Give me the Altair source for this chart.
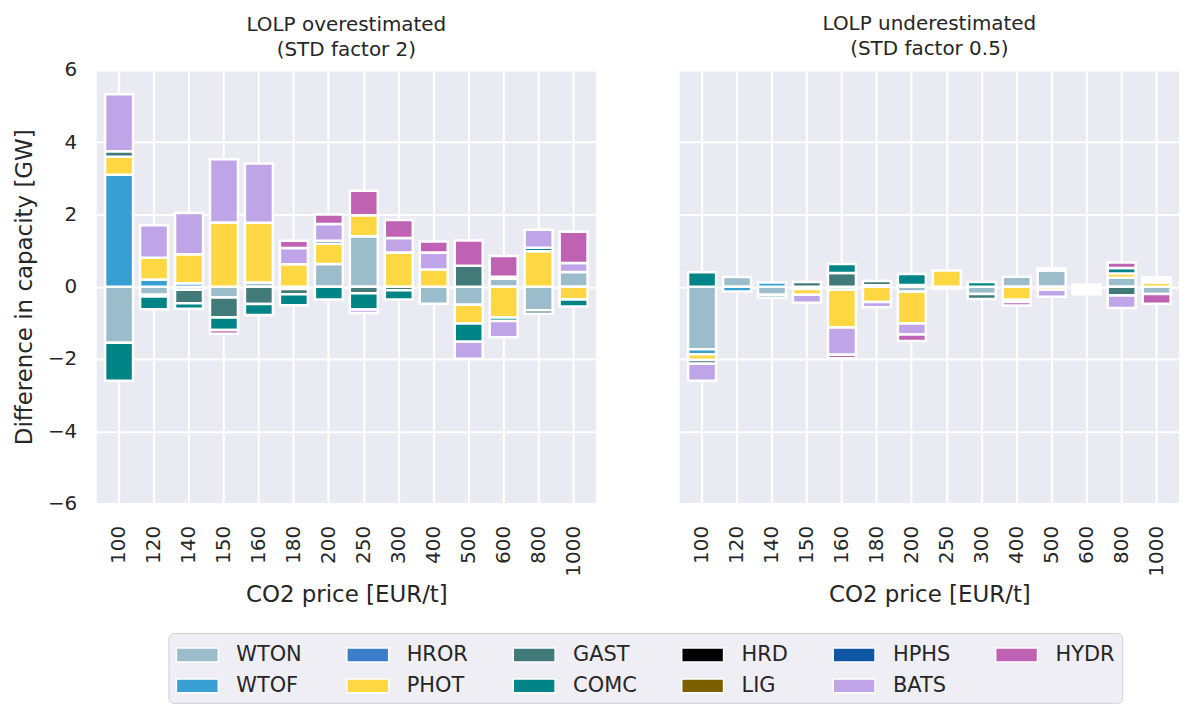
import altair as alt
import pandas as pd

prices = ["100", "120", "140", "150", "160", "180", "200", "250", "300", "400", "500", "600", "800", "1000"]
techs = ["WTON", "WTOF", "HROR", "PHOT", "GAST", "COMC", "HRD", "LIG", "HPHS", "BATS", "HYDR"]
tech_colors = ["#9bbccb", "#379fd1", "#3a7dc9", "#ffd743", "#427a7a", "#008486",
               "#000000", "#7c6000", "#0f56a3", "#c0a4e8", "#bf62b3"]

panel_titles = [["LOLP overestimated", "(STD factor 2)"], ["LOLP underestimated", "(STD factor 0.5)"]]

# LOLP overestimated (STD factor 2)
over_WTON = [-1.55, -0.22, -0.08, -0.30, 0.12, -0.06, 0.63, 1.40, 0, -0.47, -0.50, 0.22, -0.65, 0.41]
over_WTOF = [3.10, 0.20, 0.10, 0, 0, 0, 0, 0, 0, 0, 0, 0, 0, 0]
over_HROR = [0, 0, 0, 0, 0, 0, 0, 0, 0, 0, 0, 0, 0, 0]
over_PHOT = [0.50, 0.60, 0.80, 1.78, 1.65, 0.62, 0.56, 0.58, 0.95, 0.48, -0.52, -0.85, 0.98, -0.35]
over_GAST = [0.15, -0.05, -0.38, -0.55, -0.48, -0.15, 0.08, -0.18, -0.10, 0, 0.58, 0.06, -0.10, 0]
over_COMC = [-1.05, -0.35, -0.15, -0.35, -0.30, -0.30, -0.35, -0.45, -0.25, 0, -0.50, -0.10, 0.10, -0.20]
over_HRD = [0, 0, 0, 0, 0, 0, 0, 0, 0, 0, 0, 0, 0, 0]
over_LIG = [0, 0, 0, 0, 0, 0, 0, 0, 0, 0, 0, 0, 0, 0]
over_HPHS = [0, 0, 0, 0, 0, 0, 0, 0, 0, 0, 0, 0, 0, 0]
over_BATS = [1.58, 0.90, 1.14, 1.75, 1.64, 0.45, 0.47, -0.10, 0.40, 0.47, -0.47, -0.45, 0.50, 0.25]
over_HYDR = [0, 0, 0, -0.10, 0, 0.20, 0.26, 0.68, 0.50, 0.30, 0.70, 0.57, 0, 0.86]

# LOLP underestimated (STD factor 0.5)
under_WTON = [-1.73, 0.27, -0.22, -0.06, -0.08, 0.04, -0.14, -0.05, -0.20, 0.28, 0.45, 0.06, 0.25, -0.20]
under_WTOF = [-0.14, -0.13, 0.12, 0, 0, 0, 0, 0, 0, 0, 0, 0, 0, 0]
under_HROR = [0, 0, 0, 0, 0, 0, 0, 0, 0, 0, 0, 0, 0, 0]
under_PHOT = [-0.16, 0, 0, -0.16, -1.05, -0.42, -0.88, 0.45, 0, -0.36, -0.08, -0.06, 0.12, 0.12]
under_GAST = [-0.10, 0, 0, 0.13, 0.38, 0.12, 0.05, 0, -0.14, 0, 0, -0.05, -0.24, 0.05]
under_COMC = [0.40, 0, -0.08, 0, 0.25, 0, 0.30, 0, 0.13, 0, 0, -0.05, 0.15, 0.05]
under_HRD = [0, 0, 0, 0, 0, 0, 0, 0, 0, 0, 0, 0, 0, 0]
under_LIG = [0, 0, 0, 0, 0, 0, 0, 0, 0, 0, 0, 0, 0, 0]
under_HPHS = [0, 0, 0, 0, 0, 0, 0, 0, 0, 0, 0, 0, 0, 0]
under_BATS = [-0.47, 0, 0, -0.22, -0.75, -0.15, -0.30, 0, 0, -0.06, -0.20, -0.05, -0.35, 0.04]
under_HYDR = [0, 0, 0, 0, -0.10, 0, -0.18, 0, 0, -0.10, 0.06, 0, 0.15, -0.27]

over = [over_WTON, over_WTOF, over_HROR, over_PHOT, over_GAST, over_COMC,
        over_HRD, over_LIG, over_HPHS, over_BATS, over_HYDR]
under = [under_WTON, under_WTOF, under_HROR, under_PHOT, under_GAST, under_COMC,
         under_HRD, under_LIG, under_HPHS, under_BATS, under_HYDR]


def frame(series):
    rows = []
    for ti, (t, vals) in enumerate(zip(techs, series)):
        for p, v in zip(prices, vals):
            if v != 0:
                rows.append({"price": p, "tech": t, "value": v, "idx": ti})
    return pd.DataFrame(rows)


# legend laid out column by column as in the reference (2 rows)
legend_order = ["WTON", "HROR", "GAST", "HRD", "HPHS", "HYDR", "WTOF", "PHOT", "COMC", "LIG", "BATS"]
legend_colors = [tech_colors[techs.index(t)] for t in legend_order]

FONT = "DejaVu Sans"
TXT = "#262626"
TICK_FS = 20
LABEL_FS = 23
TITLE_FS = 20
LEGEND_FS = 21


def panel(df, title, first):
    yaxis = alt.Axis(values=[-6, -4, -2, 0, 2, 4, 6], title="Difference in capacity [GW]",
                     labelPadding=20, titlePadding=11) if first else \
        alt.Axis(values=[-6, -4, -2, 0, 2, 4, 6], title=None, labels=False)
    return alt.Chart(df).mark_bar(stroke="white", strokeWidth=2.5).encode(
        x=alt.X("price:N", sort=prices,
                scale=alt.Scale(domain=prices, paddingInner=0.2, paddingOuter=0.24),
                axis=alt.Axis(title="CO2 price [EUR/t]", labelAngle=-90, labelPadding=22,
                              titlePadding=7)),
        y=alt.Y("value:Q", stack="zero", scale=alt.Scale(domain=[-6, 6], nice=False), axis=yaxis),
        color=alt.Color("tech:N",
                        scale=alt.Scale(domain=legend_order, range=legend_colors),
                        legend=alt.Legend(
                            title=None, orient="none", legendX=72, legendY=565,
                            direction="horizontal", columns=6,
                            symbolType="M-1,-0.5H2V0.5H-1Z", symbolSize=784,
                            symbolStrokeColor="white", symbolStrokeWidth=1.5, symbolOpacity=1,
                            labelFontSize=LEGEND_FS, labelFont=FONT, labelColor=TXT,
                            labelOffset=31, columnPadding=42, rowPadding=6,
                            padding=7, fillColor="#eeeef4", strokeColor="#cfcfd6",
                            cornerRadius=5)),
        order=alt.Order("idx:Q", sort="ascending"),
    ).properties(
        width=501, height=435,
        title=alt.TitleParams(title, fontSize=TITLE_FS, fontWeight="normal", font=FONT, color=TXT,
                              offset=0 if first else 11, lineHeight=25, frame="group"),
    )


left = panel(frame(over), panel_titles[0], True)
right = panel(frame(under), panel_titles[1], False)

chart = alt.hconcat(left, right, spacing=84).resolve_scale(
    y="shared", color="shared"
).configure(background="white").configure_view(
    fill="#eaeaf2", stroke=None
).configure_axis(
    grid=True, gridColor="white", gridWidth=2, domain=False, ticks=False,
    labelFont=FONT, titleFont=FONT, labelFontSize=TICK_FS, titleFontSize=LABEL_FS,
    labelColor=TXT, titleColor=TXT, titleFontWeight="normal",
).configure_axisX(bandPosition=0.5)

chart.save("out.html", embed_options={"renderer": "svg", "actions": False})
